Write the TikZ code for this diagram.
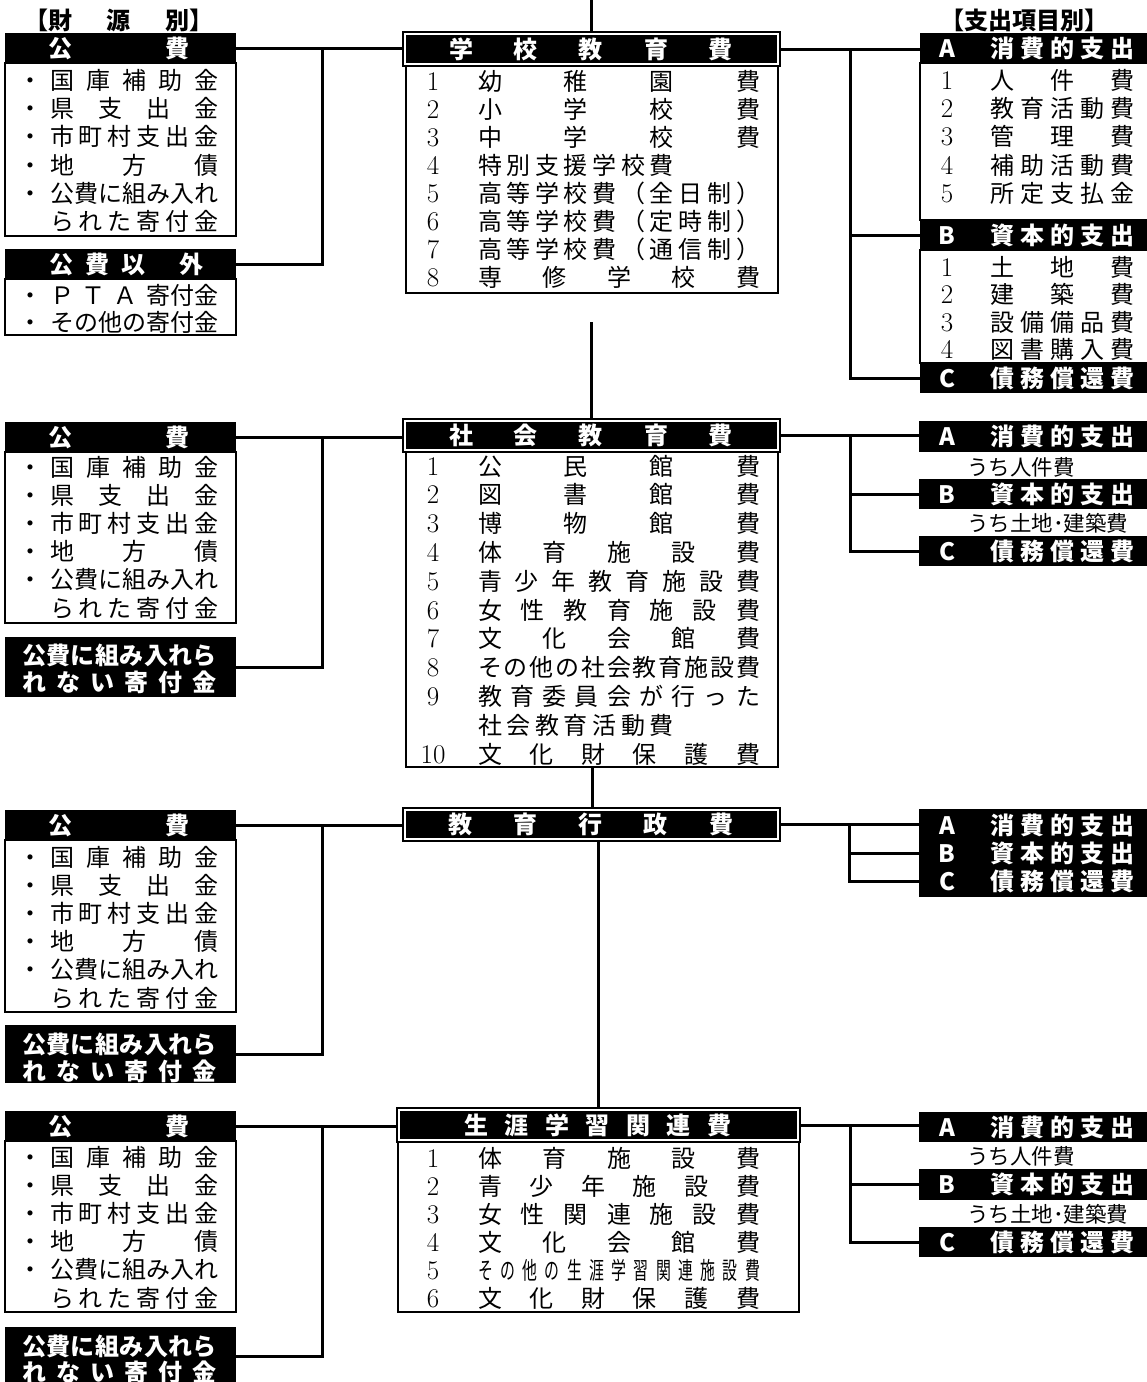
\documentclass[tikz,border=0pt]{standalone}
\usepackage{fontspec}
\usepackage{graphicx}
\newfontfamily\jp{Noto Sans CJK JP}
\ExplSyntaxOn
\NewDocumentCommand{\dist}{O{}mm}{\makebox[#2][s]{\tl_map_inline:nn{#3}{#1{##1}\hfil}\unskip}}
\ExplSyntaxOff
\newcommand{\nar}[1]{\scalebox{0.62}[1]{#1}}
\newcommand{\bx}[6]{\node[#2, minimum width=#5pt-#3pt, minimum height=#6pt-#4pt] (#1) at (#3,#4) {};}
\newcommand{\bl}[3]{\node[tx] (#1b) at (30,#2) {・};\node[tx,anchor=west] (#1) at (50,#2) {\dist{168pt}{#3}};}
\newcommand{\nl}[5]{\node[num] (#1n) at (433,#2) {#3};\node[tx,anchor=west] (#1) at (478,#2) {\dist{#4}{#5}};}
\newcommand{\rl}[4]{\node[num] (#1n) at (947,#2) {#3};\node[tx,anchor=west] (#1) at (990,#2) {\dist{145pt}{#4}};}
\newcommand{\rh}[4]{\node[wt] (#1n) at (947,#2) {#3};\node[wt,anchor=west] (#1) at (990,#2) {\dist{145pt}{#4}};}
\tikzset{
 conn/.style={line width=3pt},
 blk/.style={fill=black, draw=none, inner sep=0pt, outer sep=0pt, anchor=north west},
 wbx/.style={fill=white, draw=black, line width=1.8pt, inner sep=0pt, outer sep=0pt, anchor=north west},
 frm/.style={fill=white, draw=black, line width=1.4pt, inner sep=0pt, outer sep=0pt, anchor=north west},
 tx/.style={inner sep=0pt, outer sep=0pt, font=\jp\fontsize{24}{24}\selectfont, text height=21.1pt, text depth=2.9pt},
 wt/.style={tx, text=white, font=\jp\fontsize{24}{24}\bfseries},
 bk/.style={tx, font=\jp\fontsize{24}{24}\bfseries},
 sm/.style={tx, font=\jp\fontsize{21.5}{21.5}\selectfont},
 num/.style={inner sep=0pt, outer sep=0pt, font=\fontsize{27}{27}\selectfont, text height=18pt, text depth=0pt},
}
\begin{document}
\begin{tikzpicture}[x=1pt,y=-1pt]
\useasboundingbox (0,0) rectangle (1147,1382);
\fill[white] (0,0) rectangle (1147,1382);

% ================= Section 1 =================
\node[bk,anchor=west] (hd1) at (24,20) {【\dist{142pt}{財源別}】};
\bx{lk1b}{wbx}{5}{63}{236}{236}
\bx{lk1h}{blk}{5}{33}{236}{64}
\node[wt,anchor=west] (lk1t) at (48,48.5) {\dist{142pt}{公費}};
\bl{l1a}{80}{国庫補助金}
\bl{l1b}{108.3}{県支出金}
\bl{l1c}{136.6}{市町村支出金}
\bl{l1d}{165}{地方債}
\bl{l1e}{193.3}{公費に組み入れ}
\node[tx,anchor=west] (l1f) at (50,221.6) {\dist{168pt}{られた寄付金}};
\bx{lo1b}{wbx}{5}{279}{236}{335}
\bx{lo1h}{blk}{5}{249}{236}{279}
\node[wt,anchor=west] (lo1t) at (49,264) {公\hspace{12pt}費\hspace{13pt}以\hspace{34pt}外};
\node[tx] (l1gb) at (30,295) {・};
\node[tx,anchor=west] (l1g) at (50,295) {\makebox[168pt][s]{Ｐ\hfil Ｔ\hfil Ａ\hfil 寄付金}};
\bl{l1h}{322}{その他の寄付金}

\bx{scb}{wbx}{406}{66}{778}{293}
\bx{sch}{frm}{403}{32}{780}{66}
\bx{schf}{blk}{406}{35}{777}{63}
\node[wt,anchor=west] (scht) at (449,49) {\dist{284pt}{学校教育費}};
\nl{m1a}{81}{1}{282pt}{幼稚園費}
\nl{m1b}{109}{2}{282pt}{小学校費}
\nl{m1c}{137}{3}{282pt}{中学校費}
\nl{m1d}{165}{4}{196pt}{特別支援学校費}
\nl{m1e}{193}{5}{282pt}{高等学校費（全日制）}
\nl{m1f}{221}{6}{282pt}{高等学校費（定時制）}
\nl{m1g}{249}{7}{282pt}{高等学校費（通信制）}
\nl{m1h}{277}{8}{282pt}{専修学校費}

\node[bk,anchor=west] (hd2) at (940,20) {【支出項目別】};
\bx{ra1b}{wbx}{920}{63}{1150}{220}
\bx{rb1b}{wbx}{920}{250}{1150}{363}
\bx{ra1}{blk}{920}{33}{1148}{63}
\bx{rb1}{blk}{920}{220}{1148}{250}
\bx{rc1}{blk}{920}{363}{1148}{393}
\rh{r1h}{48}{A}{消費的支出}
\rl{r1a}{80}{1}{人件費}
\rl{r1b}{108.3}{2}{教育活動費}
\rl{r1c}{136.6}{3}{管理費}
\rl{r1d}{165}{4}{補助活動費}
\rl{r1e}{193.3}{5}{所定支払金}
\rh{r1i}{235}{B}{資本的支出}
\rl{r1j}{267}{1}{土地費}
\rl{r1k}{294}{2}{建築費}
\rl{r1l}{322}{3}{設備備品費}
\rl{r1m}{349}{4}{図書購入費}
\rh{r1n}{378}{C}{債務償還費}

\coordinate (t0) at (591.5,0);
\draw[conn] (t0) -- (sch.north);
\draw[conn] (lk1h.east) -- (lk1h.east -| sch.west);
\coordinate (j1) at (322,48.5);
\draw[conn] (lo1h.east) -| (j1);
\draw[conn] (sch.east) -- (sch.east -| ra1.west);
\coordinate (k1) at (850,49);
\draw[conn] (k1) |- (rc1.west);
\draw[conn] (rb1.west -| k1) -- (rb1.west);

% ================= Section 2 =================
\bx{ssb}{wbx}{406}{452}{778}{767}
\bx{soc}{frm}{403}{419}{780}{452}
\bx{socf}{blk}{406}{422}{777}{449}
\node[wt,anchor=west] (soct) at (449,435.5) {\dist{284pt}{社会教育費}};
\nl{m2a}{466}{1}{282pt}{公民館費}
\nl{m2b}{494.8}{2}{282pt}{図書館費}
\nl{m2c}{523.6}{3}{282pt}{博物館費}
\nl{m2d}{552.4}{4}{282pt}{体育施設費}
\nl{m2e}{581.2}{5}{282pt}{青少年教育施設費}
\nl{m2f}{610}{6}{282pt}{女性教育施設費}
\nl{m2g}{638.8}{7}{282pt}{文化会館費}
\nl{m2h}{667.6}{8}{282pt}{その他の社会教育施設費}
\nl{m2i}{696.4}{9}{282pt}{教育委員会が行った}
\node[tx,anchor=west] (m2j) at (478,725.2) {\dist{196pt}{社会教育活動費}};
\nl{m2k}{754}{10}{282pt}{文化財保護費}

\bx{lk2b}{wbx}{5}{452}{236}{623}
\bx{lk2h}{blk}{5}{422}{236}{452}
\node[wt,anchor=west] (lk2t) at (48,437) {\dist{142pt}{公費}};
\bl{l2a}{467}{国庫補助金}
\bl{l2b}{495.2}{県支出金}
\bl{l2c}{523.4}{市町村支出金}
\bl{l2d}{551.6}{地方債}
\bl{l2e}{579.8}{公費に組み入れ}
\node[tx,anchor=west] (l2f) at (50,608) {\dist{168pt}{られた寄付金}};
\bx{lo2}{blk}{5}{637}{236}{697}
\node[wt,anchor=west] (lo2a) at (22,655) {\dist{195pt}{公費に組み入れら}};
\node[wt,anchor=west] (lo2b) at (22,682) {\dist{195pt}{れない寄付金}};

\bx{ra2}{blk}{919}{421}{1148}{452}
\bx{rb2}{blk}{919}{479}{1148}{509}
\bx{rc2}{blk}{919}{536}{1148}{566}
\rh{r2a}{436.5}{A}{消費的支出}
\node[sm,anchor=west] (r2u) at (967,466) {うち人件費};
\rh{r2b}{494}{B}{資本的支出}
\node[sm,anchor=west] (r2v) at (967,522.5) {うち土地･建築費};
\rh{r2c}{551}{C}{債務償還費}

\coordinate (g1) at (591.5,322);
\draw[conn] (g1) -- (soc.north);
\draw[conn] (lk2h.east) -- (lk2h.east -| soc.west);
\coordinate (j2) at (322,437);
\draw[conn] (lo2.east) -| (j2);
\draw[conn] (soc.east) -- (soc.east -| ra2.west);
\coordinate (k2) at (850,435.5);
\draw[conn] (k2) |- (rc2.west);
\draw[conn] (rb2.west -| k2) -- (rb2.west);

% ================= Section 3 =================
\bx{adm}{frm}{403}{808}{780}{841}
\bx{admf}{blk}{406}{811}{777}{838}
\node[wt,anchor=west] (admt) at (448,824.5) {\dist{285pt}{教育行政費}};
\draw[conn] (ssb.south) -- (ssb.south |- adm.north);

\bx{lk3b}{wbx}{5}{840}{236}{1012}
\bx{lk3h}{blk}{5}{810}{236}{840}
\node[wt,anchor=west] (lk3t) at (48,825) {\dist{142pt}{公費}};
\bl{l3a}{857}{国庫補助金}
\bl{l3b}{885.2}{県支出金}
\bl{l3c}{913.4}{市町村支出金}
\bl{l3d}{941.6}{地方債}
\bl{l3e}{969.8}{公費に組み入れ}
\node[tx,anchor=west] (l3f) at (50,998) {\dist{168pt}{られた寄付金}};
\bx{lo3}{blk}{5}{1025}{236}{1083}
\node[wt,anchor=west] (lo3a) at (22,1044) {\dist{195pt}{公費に組み入れら}};
\node[wt,anchor=west] (lo3b) at (22,1071) {\dist{195pt}{れない寄付金}};

\bx{rabc}{blk}{919}{809}{1148}{897}
\rh{r3a}{825}{A}{消費的支出}
\rh{r3b}{853}{B}{資本的支出}
\rh{r3c}{881}{C}{債務償還費}

\draw[conn] (lk3h.east) -- (lk3h.east -| adm.west);
\coordinate (j3) at (322,825);
\draw[conn] (lo3.east) -| (j3);
\draw[conn] (adm.east) -- (adm.east -| rabc.west);
\coordinate (k3) at (849,824.5);
\coordinate (rb3) at (919,853);
\coordinate (rc3) at (919,881);
\draw[conn] (k3) |- (rc3);
\draw[conn] (rb3 -| k3) -- (rb3);

% ================= Section 4 =================
\bx{llb}{wbx}{398}{1142}{799}{1312}
\bx{ll}{frm}{397}{1108}{800}{1142}
\bx{llf}{blk}{400}{1111}{797}{1139}
\node[wt,anchor=west] (llt) at (464,1125) {\dist{267pt}{生涯学習関連費}};
\nl{m4a}{1158}{1}{282pt}{体育施設費}
\nl{m4b}{1186}{2}{282pt}{青少年施設費}
\nl{m4c}{1214}{3}{282pt}{女性関連施設費}
\nl{m4d}{1242}{4}{282pt}{文化会館費}
\node[num] (m4en) at (433,1270) {5};
\node[tx,anchor=west] (m4e) at (478,1270) {\dist[\nar]{282pt}{その他の生涯学習関連施設費}};
\nl{m4f}{1298}{6}{282pt}{文化財保護費}
\coordinate (admb) at (598,841);
\draw[conn] (admb) -- (admb |- ll.north);

\bx{lk4b}{wbx}{5}{1141}{236}{1312}
\bx{lk4h}{blk}{5}{1111}{236}{1141}
\node[wt,anchor=west] (lk4t) at (48,1126) {\dist{142pt}{公費}};
\bl{l4a}{1157}{国庫補助金}
\bl{l4b}{1185.2}{県支出金}
\bl{l4c}{1213.4}{市町村支出金}
\bl{l4d}{1241.6}{地方債}
\bl{l4e}{1269.8}{公費に組み入れ}
\node[tx,anchor=west] (l4f) at (50,1298) {\dist{168pt}{られた寄付金}};
\bx{lo4}{blk}{5}{1327}{236}{1386}
\node[wt,anchor=west] (lo4a) at (22,1346) {\dist{195pt}{公費に組み入れら}};
\node[wt,anchor=west] (lo4b) at (22,1372) {\dist{195pt}{れない寄付金}};

\bx{ra4}{blk}{919}{1112}{1148}{1142}
\bx{rb4}{blk}{919}{1169}{1148}{1200}
\bx{rc4}{blk}{919}{1227}{1148}{1257}
\rh{r4a}{1127}{A}{消費的支出}
\node[sm,anchor=west] (r4u) at (967,1155.5) {うち人件費};
\rh{r4b}{1184.5}{B}{資本的支出}
\node[sm,anchor=west] (r4v) at (967,1213.5) {うち土地･建築費};
\rh{r4c}{1242}{C}{債務償還費}

\draw[conn] (lk4h.east) -- (lk4h.east -| ll.west);
\coordinate (j4) at (322,1126);
\draw[conn] (lo4.east) -| (j4);
\draw[conn] (ll.east) -- (ll.east -| ra4.west);
\coordinate (k4) at (850,1125);
\draw[conn] (k4) |- (rc4.west);
\draw[conn] (rb4.west -| k4) -- (rb4.west);
\end{tikzpicture}
\end{document}
